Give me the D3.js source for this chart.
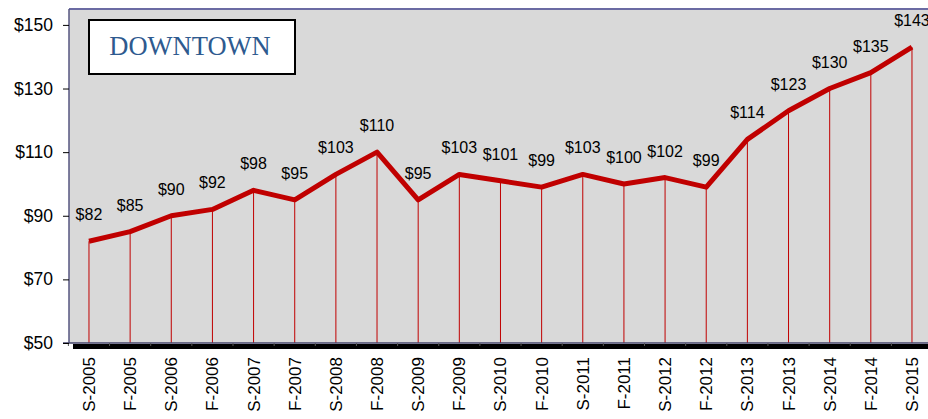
<!DOCTYPE html>
<html>
<head>
<meta charset="utf-8">
<script src="https://cdn.jsdelivr.net/npm/d3@7"></script>
<style>
  body { margin: 0; background: #fff; }
  svg { display: block; }
</style>
</head>
<body>
<script>
var categories = ["S-2005", "F-2005", "S-2006", "F-2006", "S-2007", "F-2007", "S-2008", "F-2008",
  "S-2009", "F-2009", "S-2010", "F-2010", "S-2011", "F-2011", "S-2012", "F-2012",
  "S-2013", "F-2013", "S-2014", "F-2014", "S-2015"];
var values = [82, 85, 90, 92, 98, 95, 103, 110, 95, 103, 101, 99, 103, 100, 102, 99,
  114, 123, 130, 135, 143];
var yTicks = [50, 70, 90, 110, 130, 150];
var title = "DOWNTOWN";

var width = 928, height = 419;
var plotLeft = 69, plotTop = 9, plotBottom = 343;
var font = "Liberation Sans, Arial, sans-serif";

var svg = d3.select("body").append("svg")
  .attr("width", width)
  .attr("height", height);

var x = d3.scaleBand().domain(categories).range([68.4, 68.4 + 21 * 41.15]);
var y = d3.scaleLinear().domain([50, 155]).range([plotBottom, plotTop]);
var cx = d => x(d) + x.bandwidth() / 2;

// plot background
svg.append("rect")
  .attr("x", plotLeft).attr("y", plotTop)
  .attr("width", width - plotLeft).attr("height", plotBottom - plotTop)
  .attr("fill", "#d9d9d9");

// frame
svg.append("line").attr("x1", plotLeft).attr("x2", width).attr("y1", plotTop).attr("y2", plotTop)
  .attr("stroke", "#6b6ba3").attr("stroke-width", 2);
svg.append("line").attr("x1", plotLeft).attr("x2", plotLeft).attr("y1", plotTop).attr("y2", plotBottom)
  .attr("stroke", "#55557f").attr("stroke-width", 1.5);

// drop lines
svg.selectAll(".drop").data(categories).enter().append("line")
  .attr("class", "drop")
  .attr("x1", d => cx(d)).attr("x2", d => cx(d))
  .attr("y1", (d, i) => y(values[i])).attr("y2", plotBottom)
  .attr("stroke", "#c00000").attr("stroke-width", 1);

// bottom axis with shadow bar
svg.append("rect").attr("x", 73).attr("y", plotBottom + 1).attr("width", width - 73).attr("height", 5)
  .attr("fill", "#000");
var xAxis = svg.append("g").attr("transform", `translate(0,${plotBottom})`);
xAxis.append("line").attr("x1", plotLeft - 6).attr("x2", width).attr("y1", 0).attr("y2", 0)
  .attr("stroke", "#44446a").attr("stroke-width", 1.5);
xAxis.selectAll(".xt").data(categories).enter().append("line")
  .attr("x1", d => x(d)).attr("x2", d => x(d)).attr("y1", 0).attr("y2", 3)
  .attr("stroke", "#555");
xAxis.selectAll(".xl").data(categories).enter().append("text")
  .attr("transform", d => `translate(${cx(d) + 6},14) rotate(-90)`)
  .attr("text-anchor", "end")
  .attr("font-family", font)
  .attr("font-size", 17)
  .attr("fill", "#000")
  .text(d => d);

// y axis
var yAxis = svg.append("g").attr("transform", `translate(${plotLeft},0)`)
  .call(d3.axisLeft(y).tickValues(yTicks).tickSize(6).tickPadding(10).tickFormat(d => "$" + d));
yAxis.select(".domain").remove();
yAxis.selectAll("line").attr("stroke", "#000");
yAxis.selectAll("text")
  .attr("font-family", font)
  .attr("font-size", 17.5)
  .attr("fill", "#000");

// line
var line = d3.line().x((d, i) => cx(categories[i])).y(d => y(d));
svg.append("path")
  .attr("d", line(values))
  .attr("fill", "none")
  .attr("stroke", "#c00000")
  .attr("stroke-width", 5)
  .attr("stroke-linejoin", "round");

// value labels
svg.selectAll(".vl").data(values).enter().append("text")
  .attr("x", (d, i) => cx(categories[i]))
  .attr("y", d => y(d) - 21)
  .attr("text-anchor", "middle")
  .attr("font-family", font)
  .attr("font-size", 16)
  .attr("fill", "#000")
  .text(d => "$" + d);

// title box
svg.append("rect")
  .attr("x", 89).attr("y", 20).attr("width", 206).attr("height", 54)
  .attr("fill", "#fff").attr("stroke", "#000").attr("stroke-width", 2);
svg.append("text")
  .attr("x", 190).attr("y", 55)
  .attr("text-anchor", "middle")
  .attr("font-family", "Liberation Serif, Times New Roman, serif")
  .attr("font-size", 26.5)
  .attr("fill", "#2e5a8f")
  .text(title);
</script>
</body>
</html>
